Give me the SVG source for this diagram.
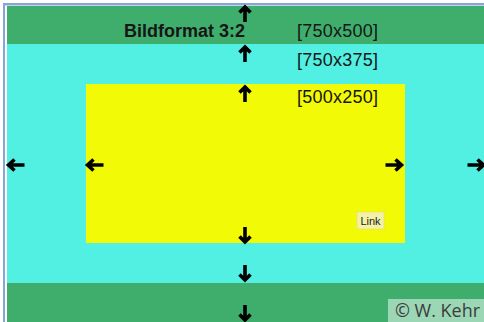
<svg xmlns="http://www.w3.org/2000/svg" width="484" height="322" viewBox="0 0 484 322">
<style>
.lbl{font-family:"Liberation Sans",Arial,sans-serif;font-size:18px;fill:#161616}
.b{font-weight:bold}
.arr{fill:none;stroke:#000;stroke-width:3.6;stroke-linecap:butt;stroke-linejoin:miter}
</style>
<defs>
<g id="up"><path class="arr" d="M-5.5,-1.5 L0,-7 L5.5,-1.5 M0,-7 V8"/></g>
<g id="left"><path class="arr" d="M-1.5,-5.5 L-7.5,0 L-1.5,5.5 M-7.5,0 H8.5"/></g>
</defs>
<rect x="0" y="0" width="484" height="322" fill="#ffffff"/>
<rect x="3" y="3" width="481" height="319" fill="#86a6d8"/>
<rect x="5" y="5.5" width="479" height="316.5" fill="#ffffff"/>
<g id="outer"><rect x="7" y="6" width="477" height="316" fill="#3fae6d"/></g>
<g id="middle"><rect x="7" y="44" width="477" height="239" fill="#52f0e3"/></g>
<g id="inner"><rect x="86" y="84" width="319" height="159" fill="#f2fa05"/></g>
<g id="labels">
<text class="lbl b" x="124" y="37">Bildformat 3:2</text>
<text class="lbl" x="297" y="37" textLength="81">[750x500]</text>
<text class="lbl" x="297" y="66" textLength="81">[750x375]</text>
<text class="lbl" x="297" y="103" textLength="81">[500x250]</text>
</g>
<g id="connectors">
<use href="#up" x="245" y="14"/>
<use href="#up" x="245" y="54"/>
<use href="#up" x="245" y="94"/>
<use href="#up" transform="translate(245,235) rotate(180)"/>
<use href="#up" transform="translate(245,273) rotate(180)"/>
<use href="#up" transform="translate(245,313) rotate(180)"/>
<use href="#left" x="16" y="165"/>
<use href="#left" x="95" y="165"/>
<use href="#left" transform="translate(394,165) rotate(180)"/>
<use href="#left" transform="translate(476,165) rotate(180)"/>
</g>
<g id="tooltip">
<rect x="357" y="212" width="27" height="17" fill="#f3f1a6" stroke="#e0dc80" stroke-width="0.6"/>
<text x="370.5" y="224.5" text-anchor="middle" font-family="'Liberation Sans',Arial,sans-serif" font-size="11" fill="#222">Link</text>
</g>
<g id="copyright">
<rect x="388" y="299" width="96" height="23" fill="#9bd6b5"/>
<text x="395" y="316.5" font-family="'Open Sans','Noto Sans',sans-serif" font-size="17.5" textLength="85" lengthAdjust="spacingAndGlyphs" fill="#3c3c3c">© W. Kehr</text>
</g>
</svg>
